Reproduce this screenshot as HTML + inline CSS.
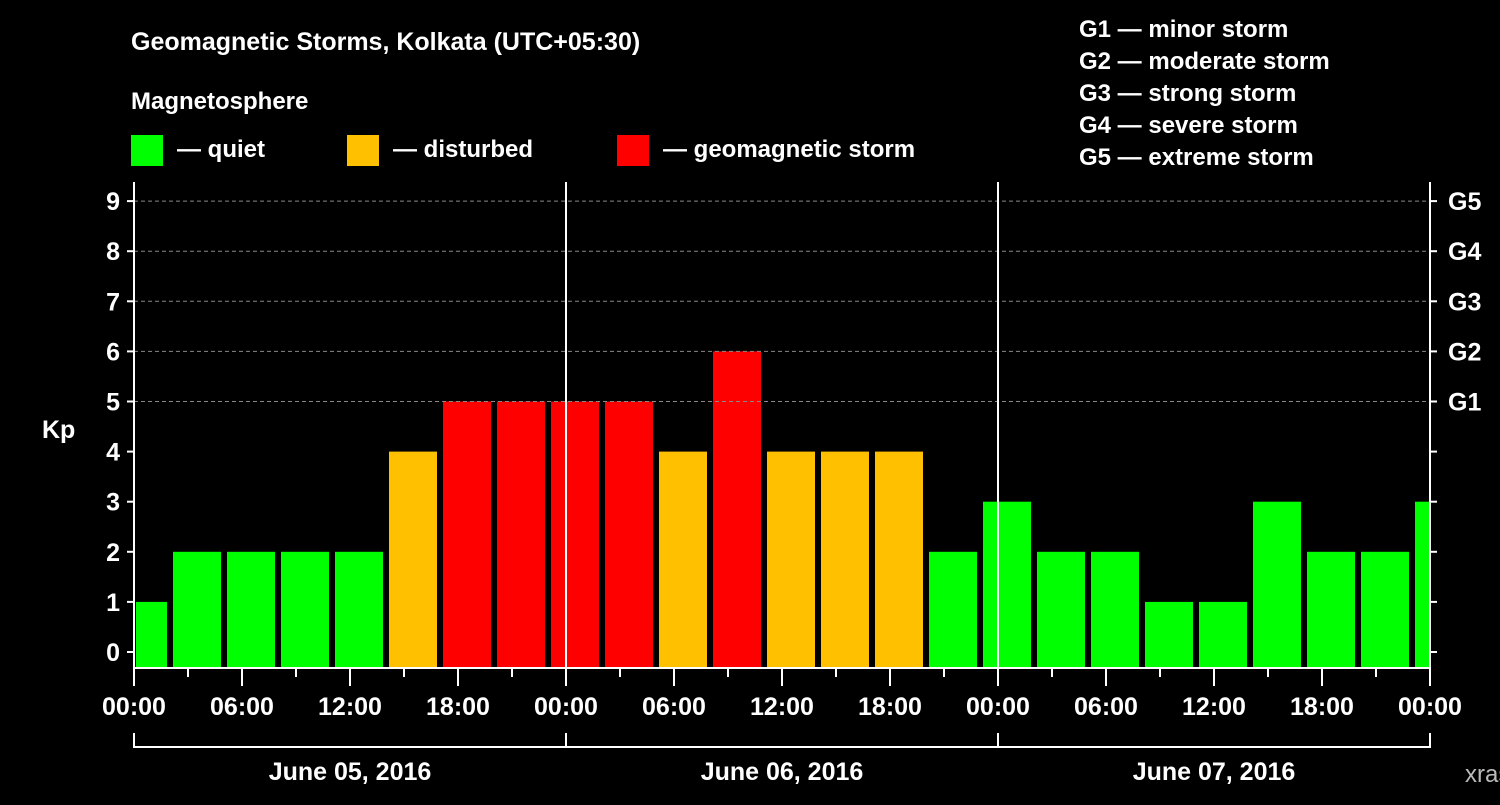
<!DOCTYPE html>
<html><head><meta charset="utf-8"><style>
body{margin:0;background:#000;}
svg text{font-family:"Liberation Sans",sans-serif;font-weight:bold;fill:#fff;}
</style></head><body>
<svg width="1500" height="800" viewBox="0 0 1500 800">
<text x="131" y="50" font-size="25">Geomagnetic Storms, Kolkata (UTC+05:30)</text>
<text x="131" y="109" font-size="24">Magnetosphere</text>
<g>
<rect x="131" y="135" width="32" height="31" fill="#00ff00"/>
<text x="177" y="157" font-size="24">— quiet</text>
<rect x="347" y="135" width="32" height="31" fill="#ffc000"/>
<text x="393" y="157" font-size="24">— disturbed</text>
<rect x="617" y="135" width="32" height="31" fill="#ff0000"/>
<text x="663" y="157" font-size="24">— geomagnetic storm</text>
</g>
<g font-size="24">
<text x="1079" y="37">G1 — minor storm</text>
<text x="1079" y="69">G2 — moderate storm</text>
<text x="1079" y="101">G3 — strong storm</text>
<text x="1079" y="133">G4 — severe storm</text>
<text x="1079" y="165">G5 — extreme storm</text>
</g>
<g id="plot"></g>
<text x="42" y="438" font-size="25">Kp</text>
<text x="1465" y="782" font-size="24" fill="#bbb" style="font-weight:normal;fill:#bbb">xras.ru</text>
</svg>
<script>
const kpValues=[1,2,2,2,2,4,5,5,5,5,4,6,4,4,4,2,3,2,2,1,1,3,2,2,3];
const yTicks=[0,1,2,3,4,5,6,7,8,9];
const gLabels=["G1","G2","G3","G4","G5"];
const xTickLabels=["00:00","06:00","12:00","18:00","00:00","06:00","12:00","18:00","00:00","06:00","12:00","18:00","00:00"];
const dayLabels=["June 05, 2016","June 06, 2016","June 07, 2016"];
const firstBarCenterHour=0.5;
const NS="http://www.w3.org/2000/svg";
const L=134,R=1430,T=182,B=668,H=72;
const x=h=>L+(R-L)*h/H;
const y=v=>652-v*50.1;
const plot=document.getElementById('plot');
function mk(tag,attrs,parent){const e=document.createElementNS(NS,tag);for(const k in attrs)e.setAttribute(k,attrs[k]);(parent||plot).appendChild(e);return e;}
// bars
kpValues.forEach((v,i)=>{
 const c=firstBarCenterHour+3*i;
 let x0=x(c-1.5)+3,x1=x(c+1.5)-3;
 x0=Math.max(x0,L+2);x1=Math.min(x1,R-1);
 const col=v>=5?'#ff0000':v>=4?'#ffc000':'#00ff00';
 const r=mk('rect',{x:x0,y:y(v),width:x1-x0,height:B-y(v),fill:col});
 
 
});
// grid & y ticks
yTicks.forEach(v=>{
 if(v>=5){const g=mk('line',{x1:L,x2:R,y1:y(v),y2:y(v),stroke:'#888','stroke-dasharray':'4,3','stroke-width':1});
 
 }
 mk('line',{x1:L-7,x2:L,y1:y(v),y2:y(v),stroke:'#fff','stroke-width':2});
 mk('line',{x1:R,x2:R+7,y1:y(v),y2:y(v),stroke:'#fff','stroke-width':2});
 const t=mk('text',{x:L-14,y:y(v)+9,'font-size':25,'text-anchor':'end'});t.textContent=v;
 
 
});
gLabels.forEach((g,i)=>{const t=mk('text',{x:R+18,y:y(5+i)+9,'font-size':25});t.textContent=g;
 
 });
// axes
mk('line',{x1:L,x2:L,y1:T,y2:B,stroke:'#fff','stroke-width':2});
mk('line',{x1:R,x2:R,y1:T,y2:B,stroke:'#fff','stroke-width':2});
mk('line',{x1:L-1,x2:R+1,y1:B,y2:B,stroke:'#fff','stroke-width':2});
[24,48].forEach(h=>mk('line',{x1:x(h),x2:x(h),y1:T,y2:B,stroke:'#fff','stroke-width':2}));
// x ticks
for(let h=0;h<=H;h+=3){const major=h%6===0;mk('line',{x1:x(h),x2:x(h),y1:B,y2:B+(major?18:9),stroke:'#fff','stroke-width':2});}
xTickLabels.forEach((s,i)=>{const t=mk('text',{x:x(i*6),y:715,'font-size':25,'text-anchor':'middle'});t.textContent=s;
 
 });
// day brackets
mk('line',{x1:L,x2:R,y1:747,y2:747,stroke:'#fff','stroke-width':2});
[0,24,48,72].forEach(h=>mk('line',{x1:x(h),x2:x(h),y1:733,y2:748,stroke:'#fff','stroke-width':2}));
dayLabels.forEach((s,i)=>{const t=mk('text',{x:x(12+24*i),y:780,'font-size':25,'text-anchor':'middle'});t.textContent=s;
 
 });
</script>
</body></html>
